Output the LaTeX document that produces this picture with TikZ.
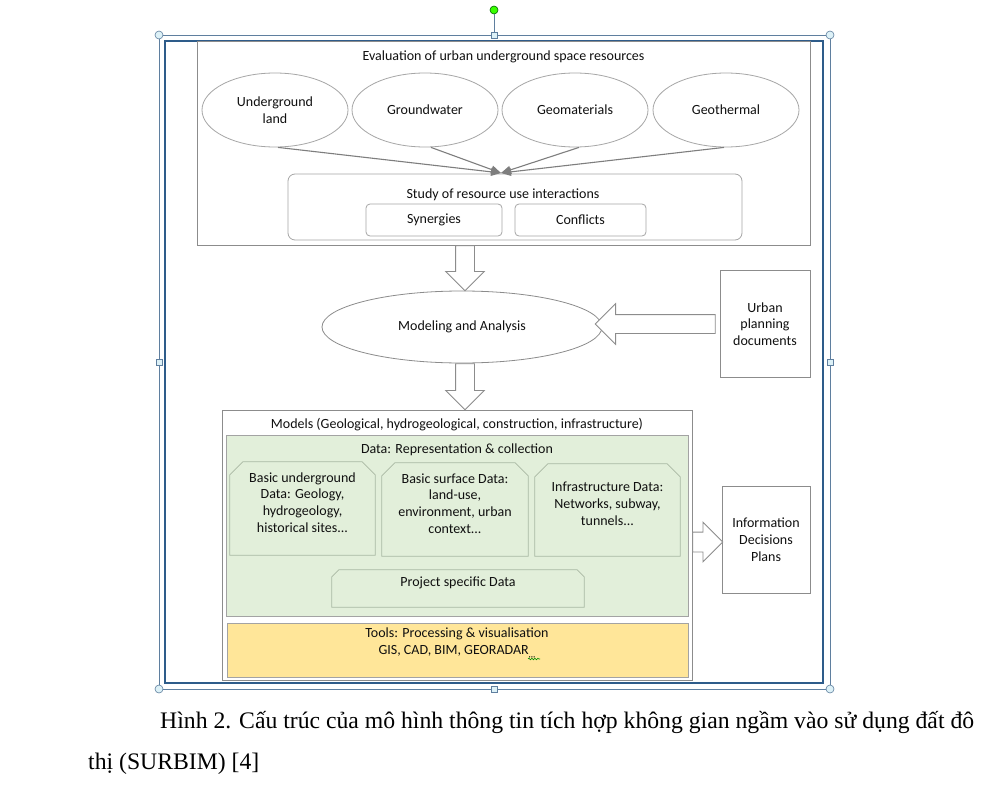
\documentclass[tikz,border=0pt]{standalone}
\usepackage{fontspec}
\setmainfont{Liberation Serif}
\newfontfamily\calibri{Carlito}
\usetikzlibrary{shapes.geometric,shapes.arrows,arrows.meta,decorations.pathmorphing}

\definecolor{framebl}{HTML}{2E5C8A}
\definecolor{selline}{HTML}{5F7F9F}
\definecolor{handlefill}{HTML}{DDF1F7}
\definecolor{ovalgrey}{HTML}{A6A6A6}
\definecolor{boxgrey}{HTML}{8C8C8C}
\definecolor{datagreen}{HTML}{E2EFDA}
\definecolor{datagreenln}{HTML}{A9B8A3}
\definecolor{toolyellow}{HTML}{FFE699}
\definecolor{textgrey}{HTML}{101010}

% box with its two top corners cut off
\newcommand{\snipframe}[2]{%
  \draw[draw=datagreenln, line width=0.8pt, fill=datagreen]
    (#1.south west) -- ([yshift=-#2]#1.north west) -- ([xshift=#2]#1.north west)
    -- ([xshift=-#2]#1.north east) -- ([yshift=-#2]#1.north east) -- (#1.south east) -- cycle;}

\begin{document}
\begin{tikzpicture}[x=1pt,y=-1pt,
    every node/.style={font=\calibri\fontsize{14}{16.8}\selectfont, inner sep=0pt, text=textgrey},
    oval/.style={ellipse, draw=ovalgrey, line width=0.8pt, minimum width=146, minimum height=74},
    plainbox/.style={rectangle, draw=boxgrey, line width=0.8pt},
    roundbox/.style={rectangle, rounded corners=7pt, draw=ovalgrey, line width=0.8pt},
    snipbox/.style={rectangle},
    hollow/.style={single arrow, draw=boxgrey, fill=white, line width=0.8pt, anchor=tail,
      inner sep=9pt, single arrow head extend=10pt},
    convarrow/.style={draw=boxgrey!90!black, line width=1.1pt, -{Triangle[length=10pt,width=8pt]}},
    handle/.style={circle, draw=selline, fill=handlefill, line width=0.6pt, minimum size=8},
    sqhandle/.style={rectangle, draw=selline, fill=handlefill, line width=0.6pt, minimum size=6},
    caption/.style={font=\fontsize{23.7}{23.7}\selectfont, text=black, anchor=base west}]

  \useasboundingbox[fill=white] (0,0) rectangle (999,792);

  % selection frame and handles
  \draw[selline, line width=0.7pt] (159,35) rectangle (830,689);
  \draw[framebl, line width=1.6pt] (165,41) rectangle (823,683);
  \node[handle, fill=green!70!lime, draw=green!40!black] (rot) at (494,10) {};
  \node[sqhandle] (htop) at (494,35) {};
  \draw[selline, line width=0.7pt] (rot) -- (htop);
  \foreach \hx/\hy [count=\i] in {159/35, 830/35, 159/689, 830/689}
    \node[handle] (hc\i) at (\hx,\hy) {};
  \foreach \hx/\hy [count=\i] in {159/362, 830/362, 494/689}
    \node[sqhandle] (hs\i) at (\hx,\hy) {};

  % evaluation of resources
  \node[plainbox, minimum width=613, minimum height=204] (evalbox) at (503.5,143) {};
  \node (evaltitle) at (503.5,57) {Evaluation of urban underground space resources};
  \node[oval, align=center] (ugland) at (275,110) {Underground\\land};
  \node[oval] (gwater) at (425,110) {Groundwater};
  \node[oval] (geomat) at (575,110) {Geomaterials};
  \node[oval] (gtherm) at (726,110) {Geothermal};

  \node[roundbox, minimum width=454, minimum height=66] (study) at (515,207) {};
  \node (studytitle) at (503,195) {Study of resource use interactions};
  \node[roundbox, rounded corners=4pt, minimum width=136, minimum height=32] (synergy) at (434,220) {Synergies};
  \node[roundbox, rounded corners=4pt, minimum width=131, minimum height=32] (conflict) at (580.5,220) {Conflicts};

  \coordinate (meet) at (501,173);
  \draw[convarrow] ([xshift=3]ugland.south) -- (meet);
  \draw[convarrow] ([xshift=6]gwater.south) -- (meet);
  \draw[convarrow] ([xshift=4]geomat.south) -- (meet);
  \draw[convarrow] ([xshift=-2]gtherm.south) -- (meet);

  % modeling
  \node[ellipse, draw=boxgrey, line width=0.8pt, minimum width=280, minimum height=72] (model) at (462,327) {Modeling and Analysis};
  \node[plainbox, minimum width=90, minimum height=107, align=center] (urbdoc) at (765,324) {Urban\\planning\\documents};

  \node[hollow, shape border rotate=270, minimum height=45] (arrA) at (evalbox.south -| 465,0) {};
  \node[hollow, shape border rotate=180, minimum height=120, single arrow head extend=11pt] (arrB) at ([xshift=-4]urbdoc.west) {};
  \node[hollow, shape border rotate=270, minimum height=46] (arrC) at (model.south -| 465,0) {};

  % models
  \node[plainbox, minimum width=470, minimum height=270] (models) at (457,545) {};
  \node (modtitle) at (457,425) {Models (Geological, hydrogeological, construction, infrastructure)};
  \node[plainbox, draw=boxgrey!80, fill=datagreen, minimum width=462, minimum height=181] (databox) at (457,525.5) {};
  \node (datatitle) at (457,450) {Data: Representation \& collection};

  \node[snipbox, minimum width=145, minimum height=93] (undg) at (302.5,508.5) {};
  \node[snipbox, minimum width=146, minimum height=93] (surf) at (455,509.5) {};
  \node[snipbox, minimum width=145, minimum height=92] (infra) at (607.5,510) {};
  \node[snipbox, minimum width=252, minimum height=37] (proj) at (458,588.5) {};
  \snipframe{undg}{13}
  \snipframe{surf}{13}
  \snipframe{infra}{13}
  \snipframe{proj}{7}
  \node[align=center] (undgtxt) at ([yshift=6]undg.center) {Basic underground\\Data: Geology,\\hydrogeology,\\historical sites...};
  \node[align=center] (surftxt) at ([yshift=6]surf.center) {Basic surface Data:\\land-use,\\environment, urban\\context...};
  \node[align=center] (infratxt) at ([yshift=6]infra.center) {Infrastructure Data:\\Networks, subway,\\tunnels...};
  \node (projtxt) at (458,583) {Project specific Data};

  \node[plainbox, draw=boxgrey!80, fill=toolyellow, minimum width=461, minimum height=54] (tools) at (457.5,650) {};
  \node[align=center] (tooltxt) at (457,643) {Tools: Processing \& visualisation\\GIS, CAD, BIM, GEORADAR\raisebox{-3pt}{\fontsize{9}{9}\selectfont,,,}};
  \coordinate (squig) at (528,659);
  \draw[green!55!black, line width=0.6pt, decorate, decoration={snake, amplitude=0.8pt, segment length=3pt}] (squig) -- ++(12,0);

  % information
  \node[plainbox, minimum width=88, minimum height=107, align=center] (infobox) at (766,539.5) {Information\\Decisions\\Plans};
  \node[hollow, shape border rotate=0, minimum height=30, inner sep=9.5pt] (arrD) at (models.east |- 0,542) {};

  % caption
  \node[caption] (cap1) at (160,728) {Hình 2. Cấu trúc của mô hình thông tin tích hợp không gian ngầm vào sử dụng đất đô};
  \node[caption] (cap2) at (88,769) {thị (SURBIM) [4]};
\end{tikzpicture}
\end{document}
